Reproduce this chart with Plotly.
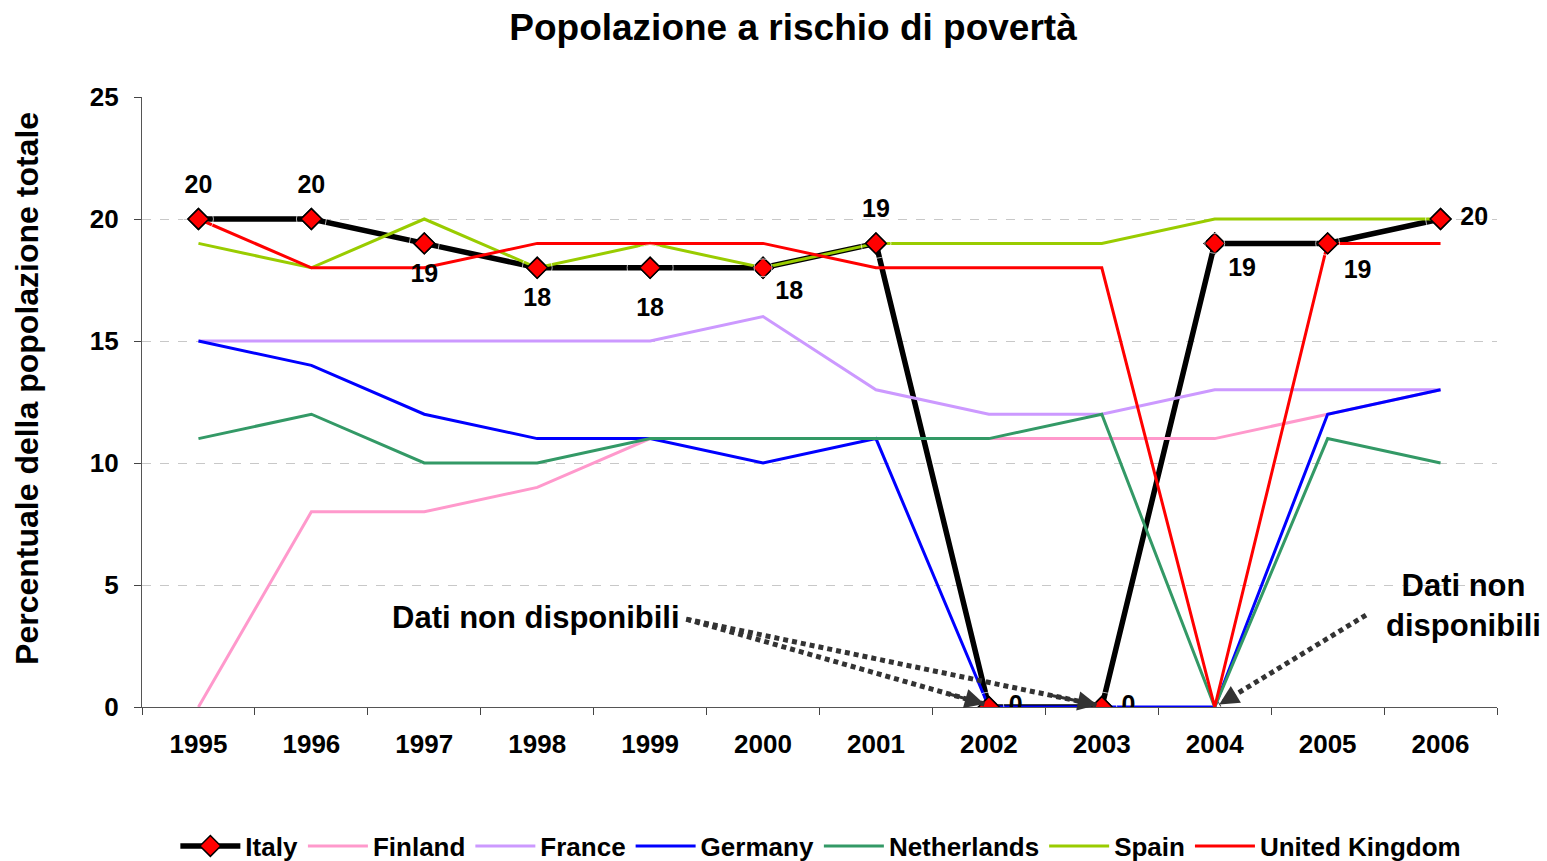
import plotly.graph_objects as go

years = ["1995", "1996", "1997", "1998", "1999", "2000", "2001", "2002", "2003", "2004", "2005", "2006"]
italy = [20, 20, 19, 18, 18, 18, 19, 0, 0, 19, 19, 20]
finland = [0, 8, 8, 9, 11, 11, 11, 11, 11, 11, 12, 13]
france = [15, 15, 15, 15, 15, 16, 13, 12, 12, 13, 13, 13]
germany = [15, 14, 12, 11, 11, 10, 11, 0, 0, 0, 12, 13]
netherlands = [11, 12, 10, 10, 11, 11, 11, 11, 12, 0, 11, 10]
spain = [19, 18, 20, 18, 19, 18, 19, 19, 19, 20, 20, 20]
uk = [20, 18, 18, 19, 19, 19, 18, 18, 18, 0, 19, 19]

italy_label_pos = ["top center", "top center", "bottom center", "bottom center", "bottom center",
                   "bottom right", "top center", "middle right", "middle right", "bottom right",
                   "bottom right", "middle right"]
italy_label_gap = [30, 30, 30, 30, 46, 18, 30, 30, 30, 20, 24, 30]

FONT = "Liberation Sans, Arial, sans-serif"

fig = go.Figure()

fig.add_trace(go.Scatter(x=years, y=italy, name="Italy", mode="lines+markers",
                         line=dict(color="black", width=5.5),
                         marker=dict(symbol="diamond", size=16, color="#FF0000",
                                     line=dict(color="black", width=1.5)),
                         legendrank=1))

others = [("Finland", finland, "#FF99CC"), ("France", france, "#CC99FF"),
          ("Germany", germany, "#0000FF"), ("Netherlands", netherlands, "#339966"),
          ("Spain", spain, "#99CC00"), ("United Kingdom", uk, "#FF0000")]
for i, (name, vals, col) in enumerate(others):
    fig.add_trace(go.Scatter(x=years, y=vals, name=name, mode="lines",
                             line=dict(color=col, width=3), legendrank=2 + i))

# Italy markers on top
fig.add_trace(go.Scatter(x=years, y=italy, mode="markers", showlegend=False,
                         marker=dict(symbol="diamond", size=16, color="#FF0000",
                                     line=dict(color="black", width=1.5)),
                         hoverinfo="skip"))
# Italy value labels (invisible larger marker to space the text from the point)
fig.add_trace(go.Scatter(x=years, y=italy, mode="markers+text", showlegend=False,
                         marker=dict(size=italy_label_gap, color="rgba(0,0,0,0)"),
                         text=[str(v) for v in italy], textposition=italy_label_pos,
                         textfont=dict(family=FONT, size=25, color="black", weight="bold"),
                         hoverinfo="skip"))

# "Dati non disponibili" annotations with dotted arrows
arrow_col = "#333333"
left_start = (4.32, 3.6)
right_start = (10.34, 3.77)
targets = [(left_start, (6.96, 0.12)), (left_start, (7.96, 0.08)), (right_start, (9.04, 0.1))]
for (sx, sy), (tx, ty) in targets:
    fig.add_shape(type="line", x0=sx, y0=sy, x1=tx, y1=ty, xref="x", yref="y",
                  line=dict(color=arrow_col, width=5, dash="5px,4px"))
    fig.add_annotation(x=tx, y=ty, ax=tx - (tx - sx) * 0.12, ay=ty - (ty - sy) * 0.12,
                       axref="x", ayref="y", xref="x", yref="y", text="",
                       showarrow=True, arrowhead=2, arrowsize=1.3, arrowwidth=3,
                       arrowcolor=arrow_col)

fig.add_annotation(x=2.99, y=3.65, xref="x", yref="y", text="Dati non disponibili",
                   showarrow=False, font=dict(family=FONT, size=31, color="black", weight="bold"))
fig.add_annotation(x=11.2, y=4.14, xref="x", yref="y", text="Dati non<br>disponibili",
                   showarrow=False, font=dict(family=FONT, size=31, color="black", weight="bold"))

# y axis title as annotation
fig.add_annotation(x=-0.0849, y=0.523, xref="paper", yref="paper", xanchor="center", yanchor="middle",
                   text="Percentuale della popolazione totale", textangle=-90,
                   showarrow=False, font=dict(family=FONT, size=32, color="black", weight="bold"))

fig.update_layout(
    width=1547, height=861,
    margin=dict(l=142, r=50, t=97, b=154, autoexpand=False),
    paper_bgcolor="white", plot_bgcolor="white",
    title=dict(text="Popolazione a rischio di povertà", x=0.5126, xref="container", xanchor="center",
               y=1 - 27 / 861, yref="container", yanchor="middle",
               font=dict(family=FONT, size=37, color="black", weight="bold")),
    legend=dict(orientation="h", x=0.501, xanchor="center", y=-0.228, yanchor="middle",
                font=dict(family=FONT, size=26, color="black", weight="bold"),
                itemwidth=60, tracegroupgap=0),
    showlegend=True,
    font=dict(family=FONT),
)
fig.update_xaxes(type="category", range=[-0.5, 11.5], tickson="boundaries",
                 ticks="outside", ticklen=7, tickcolor="#444", showline=True, linecolor="#555",
                 linewidth=1.3, showgrid=False, zeroline=False,
                 tickfont=dict(family=FONT, size=26, color="black", weight="bold"),
                 ticklabelstandoff=14)
fig.update_yaxes(range=[0, 25], dtick=5, ticks="outside", ticklen=7, tickcolor="#444",
                 showline=True, linecolor="#555", linewidth=1.3,
                 showgrid=True, gridcolor="#C8C8C8", griddash="dash", gridwidth=1,
                 zeroline=False,
                 tickfont=dict(family=FONT, size=26, color="black", weight="bold"),
                 ticklabelstandoff=10)

fig.write_html("out.html", config={"displayModeBar": False},
               post_script="document.body.style.margin='0px';")
